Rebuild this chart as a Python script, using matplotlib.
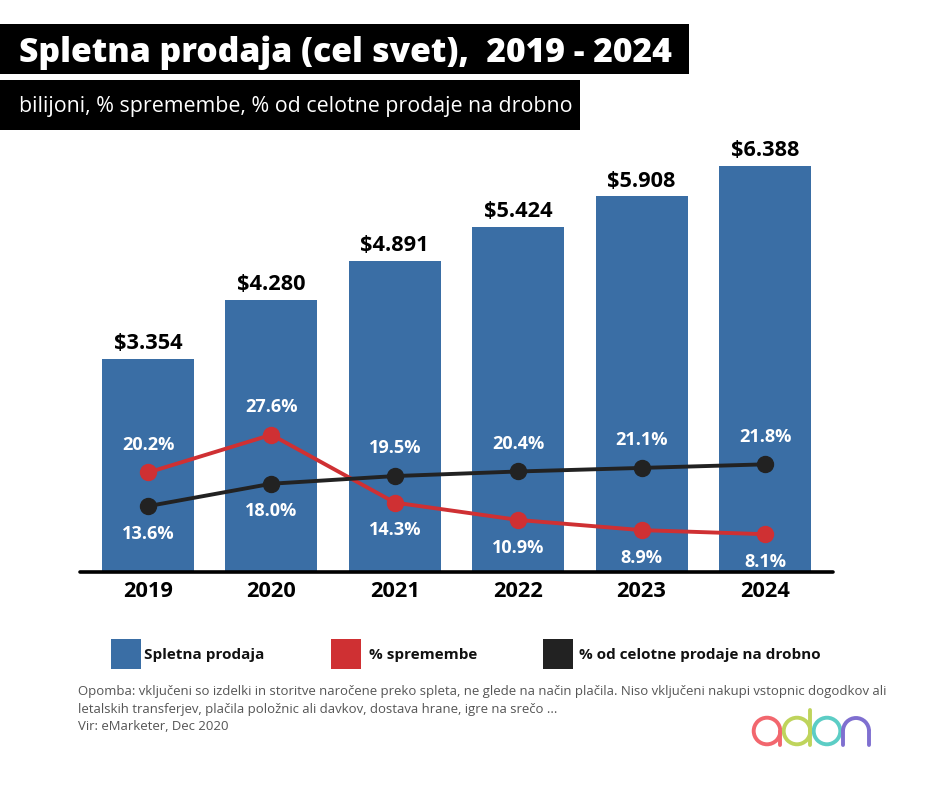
import matplotlib
matplotlib.use("Agg")
import matplotlib.pyplot as plt
from matplotlib.patches import Rectangle, Arc, Circle

plt.rcParams['font.family'] = ['Open Sans', 'DejaVu Sans']

years = ['2019', '2020', '2021', '2022', '2023', '2024']
sales = [3.354, 4.280, 4.891, 5.424, 5.908, 6.388]
change = [20.2, 27.6, 14.3, 10.9, 8.9, 8.1]
share = [13.6, 18.0, 19.5, 20.4, 21.1, 21.8]

TITLE = 'Spletna prodaja (cel svet),  2019 - 2024'
SUBTITLE = 'bilijoni, % spremembe, % od celotne prodaje na drobno'
NOTE = ['Opomba: vključeni so izdelki in storitve naročene preko spleta, ne glede na način plačila. Niso vključeni nakupi vstopnic dogodkov ali',
        'letalskih transferjev, plačila položnic ali davkov, dostava hrane, igre na srečo ...',
        'Vir: eMarketer, Dec 2020']
LEGEND = ['Spletna prodaja', '% spremembe', '% od celotne prodaje na drobno']

BLUE, RED, DARK = '#3A6EA5', '#CF3033', '#222222'
W, H = 940, 788

fig = plt.figure(figsize=(W / 100, H / 100), dpi=100, facecolor='white')

# page overlay in pixel coordinates (decoration, titles, legend, logo)
page = fig.add_axes([0, 0, 1, 1], zorder=5)
page.set_xlim(0, W); page.set_ylim(H, 0); page.axis('off'); page.patch.set_alpha(0)

page.add_patch(Rectangle((0, 24), 689, 50, color='black', lw=0))
page.add_patch(Rectangle((0, 80), 580, 50, color='black', lw=0))
page.text(19, 52.5, TITLE, color='white', fontsize=24.25, fontweight='heavy', va='center', ha='left')
page.text(19, 106, SUBTITLE, color='white', fontsize=15.4, va='center', ha='left')

for (x, tx), col, lab in zip([(111, 144), (331, 369), (543, 579)], [BLUE, RED, DARK], LEGEND):
    page.add_patch(Rectangle((x, 639), 30, 30, color=col, lw=0))
    page.text(tx, 654.5, lab, fontsize=11, fontweight='bold', color='#111111', va='center', ha='left')

for y, line in zip([691.5, 709, 726.5], NOTE):
    page.text(78, y, line, fontsize=9.44, color='#555555', va='center', ha='left')

# logo
lw = 2.8
page.add_patch(Circle((767, 731), 13.3, fill=False, ec='#F2676E', lw=lw))
page.plot([780.3, 780.3], [731, 745], color='#F2676E', lw=lw, solid_capstyle='round')
page.add_patch(Circle((797, 731), 13.3, fill=False, ec='#BFD45C', lw=lw))
page.plot([810.3, 810.3], [710, 745], color='#BFD45C', lw=lw, solid_capstyle='round')
page.add_patch(Circle((827, 731), 13.3, fill=False, ec='#5CCDC5', lw=lw))
page.add_patch(Arc((856, 731), 26, 26, theta1=180, theta2=360, ec='#7F6FD0', lw=lw))
page.plot([843, 843], [731, 745], color='#7F6FD0', lw=lw, solid_capstyle='round')
page.plot([869, 869], [731, 745], color='#7F6FD0', lw=lw, solid_capstyle='round')

# chart
step = 123.4
left, right, base, top = 80, 833, 572, 130
rect = [left / W, 1 - base / H, (right - left) / W, (base - top) / H]
ax = fig.add_axes(rect, zorder=1)
xs = list(range(len(years)))
xlim = (-(148 - left) / step, (right - 148) / step)
ax.set_xlim(*xlim)
ax.set_ylim(0, (base - top) / 63.56)
ax.bar(xs, sales, width=92 / step, color=BLUE)
for s in ['top', 'left', 'right']:
    ax.spines[s].set_visible(False)
ax.spines['bottom'].set_linewidth(2.6)
ax.spines['bottom'].set_color('black')
ax.spines['bottom'].set_capstyle('round')
ax.set_yticks([])
ax.set_xticks(xs, years, fontsize=15.7, fontweight='bold', color='black')
ax.tick_params(axis='x', length=0, pad=6.5)
for x, v in zip(xs, sales):
    ax.annotate(f'${v:.3f}', (x, v), xytext=(0, 3.5), textcoords='offset points', ha='center', va='bottom',
                fontsize=15.7, fontweight='bold', color='black')

# both percentage series share one hidden scale
pct = fig.add_axes(rect, zorder=2)
pct.patch.set_alpha(0); pct.axis('off')
pct.set_xlim(*xlim)
pct.set_ylim(0.69, 0.69 + (base - top) / 5.1)

pct.plot(xs, change, color=RED, lw=2.8, marker='o', ms=11.5)
pct.plot(xs, share, color=DARK, lw=2.8, marker='o', ms=11.5)

for i in xs:
    red_up = change[i] > share[i]
    for v, up in [(change[i], red_up), (share[i], not red_up)]:
        pct.annotate(f'{v:.1f}%', (i, v), xytext=(0, 20 if up else -20), textcoords='offset points',
                     ha='center', va='center', fontsize=13.1, fontweight='bold', color='white')

fig.savefig('out.png', dpi=100, facecolor='white')
